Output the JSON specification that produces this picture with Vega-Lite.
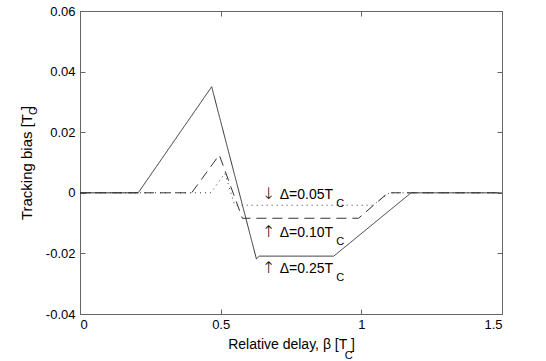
{
  "$schema": "https://vega.github.io/schema/vega-lite/v6.json",
  "width": 422,
  "height": 303,
  "autosize": {"type": "none"},
  "padding": {"left": 80, "top": 11, "right": 44, "bottom": 47},
  "background": "white",
  "config": {
    "font": "Liberation Sans",
    "view": {"stroke": null},
    "axis": {
      "grid": false,
      "domainColor": "#666",
      "tickColor": "#666",
      "tickSize": -5,
      "labelColor": "#000",
      "titleColor": "#000",
      "labelFont": "Liberation Sans",
      "titleFont": "Liberation Sans",
      "labelFontSize": 13,
      "titleFontSize": 14,
      "titleFontWeight": "normal"
    }
  },
  "datasets": {
    "lines": [
      {"series": "0.25", "x": 0, "y": 0},
      {"series": "0.25", "x": 0.207, "y": 0},
      {"series": "0.25", "x": 0.468, "y": 0.035},
      {"series": "0.25", "x": 0.627, "y": -0.0218},
      {"series": "0.25", "x": 0.637, "y": -0.0209},
      {"series": "0.25", "x": 0.902, "y": -0.0209},
      {"series": "0.25", "x": 1.177, "y": 0},
      {"series": "0.25", "x": 1.5, "y": 0},
      {"series": "0.10", "x": 0, "y": 0},
      {"series": "0.10", "x": 0.397, "y": 0},
      {"series": "0.10", "x": 0.495, "y": 0.0125},
      {"series": "0.10", "x": 0.577, "y": -0.0084},
      {"series": "0.10", "x": 0.99, "y": -0.0084},
      {"series": "0.10", "x": 1.095, "y": 0},
      {"series": "0.10", "x": 1.5, "y": 0},
      {"series": "0.05", "x": 0, "y": 0},
      {"series": "0.05", "x": 0.465, "y": 0},
      {"series": "0.05", "x": 0.515, "y": 0.0064},
      {"series": "0.05", "x": 0.55, "y": -0.0041},
      {"series": "0.05", "x": 1.04, "y": -0.0041},
      {"series": "0.05", "x": 1.1, "y": 0},
      {"series": "0.05", "x": 1.5, "y": 0}
    ],
    "arrows": [
      {"x": 0.671, "y": -0.0019, "label": "↓"},
      {"x": 0.671, "y": -0.0147, "label": "↑"},
      {"x": 0.671, "y": -0.0264, "label": "↑"}
    ],
    "notes": [
      {"x": 0.71, "y": -0.0019, "label": "Δ=0.05T"},
      {"x": 0.71, "y": -0.0147, "label": "Δ=0.10T"},
      {"x": 0.71, "y": -0.0264, "label": "Δ=0.25T"}
    ],
    "subs": [
      {"x": 0.911, "y": -0.0046, "label": "C"},
      {"x": 0.911, "y": -0.0172, "label": "C"},
      {"x": 0.911, "y": -0.029, "label": "C"},
      {"x": 0.941, "y": -0.055, "label": "C"}
    ],
    "ysub": [
      {"x": -0.163, "y": 0.027, "label": "C"}
    ]
  },
  "layer": [
    {
      "data": {"name": "lines"},
      "mark": {"type": "line", "strokeWidth": 1, "color": "#333"},
      "encoding": {
        "x": {
          "field": "x", "type": "quantitative",
          "scale": {"domain": [0, 1.5], "nice": false, "zero": false},
          "axis": {"orient": "bottom", "values": [0, 0.5, 1, 1.5], "format": "~g", "labelPadding": 9, "title": "Relative delay, β [T   ]", "titlePadding": 6}
        },
        "y": {
          "field": "y", "type": "quantitative",
          "scale": {"domain": [-0.04, 0.06], "nice": false, "zero": false},
          "axis": {"orient": "left", "values": [-0.04, -0.02, 0, 0.02, 0.04, 0.06], "labelPadding": 10,
            "labelExpr": "datum.value == 0 ? '0' : replace(format(datum.value, '.2f'), '\u2212', '-')",
            "title": "Tracking bias [T  ]", "titleFontSize": 15, "titlePadding": 11}
        },
        "strokeDash": {
          "field": "series", "type": "nominal", "legend": null,
          "scale": {"domain": ["0.25", "0.10", "0.05"], "range": [[1, 0], [10, 6], [1, 4]]}
        }
      }
    },
    {
      "data": {"name": "lines"},
      "mark": {"type": "point", "opacity": 0},
      "encoding": {
        "x": {"field": "x", "type": "quantitative",
          "axis": {"orient": "top", "values": [0, 0.5, 1, 1.5], "labels": false, "title": null}},
        "y": {"field": "y", "type": "quantitative",
          "axis": {"orient": "right", "values": [-0.04, -0.02, 0, 0.02, 0.04, 0.06], "labels": false, "title": null}}
      }
    },
    {
      "data": {"name": "arrows"},
      "mark": {"type": "text", "fontSize": 16, "align": "center", "baseline": "alphabetic", "color": "#000", "font": "DejaVu Sans", "fontWeight": 200},
      "encoding": {
        "x": {"field": "x", "type": "quantitative", "axis": null},
        "y": {"field": "y", "type": "quantitative", "axis": null},
        "text": {"field": "label"}
      }
    },
    {
      "data": {"name": "notes"},
      "mark": {"type": "text", "fontSize": 14, "align": "left", "baseline": "alphabetic", "color": "#000", "font": "Liberation Sans"},
      "encoding": {
        "x": {"field": "x", "type": "quantitative", "axis": null},
        "y": {"field": "y", "type": "quantitative", "axis": null},
        "text": {"field": "label"}
      }
    },
    {
      "data": {"name": "subs"},
      "mark": {"type": "text", "fontSize": 11, "align": "left", "baseline": "alphabetic", "color": "#000", "font": "Liberation Sans"},
      "encoding": {
        "x": {"field": "x", "type": "quantitative", "axis": null},
        "y": {"field": "y", "type": "quantitative", "axis": null},
        "text": {"field": "label"}
      }
    },
    {
      "data": {"name": "ysub"},
      "mark": {"type": "text", "fontSize": 11, "angle": 270, "align": "center", "baseline": "middle", "color": "#000", "font": "Liberation Sans"},
      "encoding": {
        "x": {"field": "x", "type": "quantitative", "axis": null},
        "y": {"field": "y", "type": "quantitative", "axis": null},
        "text": {"field": "label"}
      }
    }
  ],
  "resolve": {"axis": {"x": "independent", "y": "independent"}}
}
